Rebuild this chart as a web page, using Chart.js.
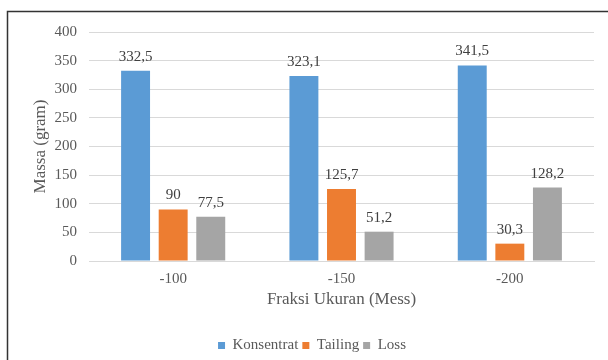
<!DOCTYPE html>
<html>
<head>
<meta charset="utf-8">
<script src="https://cdn.jsdelivr.net/npm/chart.js@4/dist/chart.umd.min.js"></script>
<style>
  html, body { margin: 0; padding: 0; background: #fff; }
  #wrap { width: 608px; height: 360px; position: relative; }
</style>
</head>
<body>
<div id="wrap"><canvas id="c" width="608" height="360"></canvas></div>
<script>
const categories = ['-100', '-150', '-200'];
const konsentrat = [332.5, 323.1, 341.5];
const tailing = [90, 125.7, 30.3];
const loss = [77.5, 51.2, 128.2];
const seriesNames = ['Konsentrat', 'Tailing', 'Loss'];
const yTicks = [0, 50, 100, 150, 200, 250, 300, 350, 400];

const FONT = "'Liberation Serif', 'Times New Roman', serif";
const TEXT = '#595959';

// Thin frame along the top and left edges
const framePlugin = {
  id: 'frame',
  beforeDraw(chart) {
    const ctx = chart.ctx;
    ctx.save();
    ctx.fillStyle = '#fff';
    ctx.fillRect(0, 0, chart.width, chart.height);
    ctx.strokeStyle = '#333';
    ctx.lineWidth = 1.5;
    ctx.beginPath();
    ctx.moveTo(7.5, 360);
    ctx.lineTo(7.5, 11.5);
    ctx.lineTo(608, 11.5);
    ctx.stroke();
    ctx.restore();
  }
};

// Value labels above each bar, decimal comma
const valueLabels = {
  id: 'valueLabels',
  afterDatasetsDraw(chart) {
    const ctx = chart.ctx;
    ctx.save();
    ctx.font = '15px ' + FONT;
    ctx.fillStyle = '#404040';
    ctx.textAlign = 'center';
    ctx.textBaseline = 'alphabetic';
    chart.data.datasets.forEach((ds, i) => {
      chart.getDatasetMeta(i).data.forEach((bar, j) => {
        const txt = String(ds.data[j]).replace('.', ',');
        ctx.fillText(txt, bar.x, bar.y - 10);
      });
    });
    ctx.restore();
  }
};

new Chart(document.getElementById('c'), {
  type: 'bar',
  data: {
    labels: categories,
    datasets: [
      { label: seriesNames[0], data: konsentrat, backgroundColor: '#5b9bd5' },
      { label: seriesNames[1], data: tailing, backgroundColor: '#ed7d31' },
      { label: seriesNames[2], data: loss, backgroundColor: '#a5a5a5' }
    ]
  },
  options: {
    responsive: false,
    animation: false,
    devicePixelRatio: 1,
    layout: { padding: { left: 30, right: 14, top: 32, bottom: -3 } },
    datasets: { bar: { categoryPercentage: 0.67, barPercentage: 0.77 } },
    plugins: {
      legend: {
        position: 'bottom',
        labels: {
          font: { family: FONT, size: 15 },
          color: TEXT,
          boxWidth: 7,
          boxHeight: 7,
          padding: 4
        }
      },
      tooltip: { enabled: false }
    },
    scales: {
      x: {
        afterFit(axis) { axis.height = 73; },
        grid: { display: false, drawTicks: false },
        border: { color: '#d9d9d9', width: 1 },
        ticks: { font: { family: FONT, size: 15 }, color: TEXT, padding: 9 },
        title: {
          display: true,
          text: 'Fraksi Ukuran (Mess)',
          font: { family: FONT, size: 17 },
          color: TEXT,
          padding: { top: 0, bottom: 24 }
        }
      },
      y: {
        min: 0,
        max: 400,
        afterFit(axis) { axis.width = 59; },
        afterBuildTicks(axis) { axis.ticks = yTicks.map(v => ({ value: v })); },
        grid: { color: '#d9d9d9', drawTicks: false },
        border: { display: false },
        ticks: { font: { family: FONT, size: 15 }, color: TEXT, padding: 12 },
        title: {
          display: true,
          text: 'Massa (gram)',
          font: { family: FONT, size: 17 },
          color: TEXT,
          padding: { top: 0, bottom: 2 }
        }
      }
    }
  },
  plugins: [framePlugin, valueLabels]
});
</script>
</body>
</html>
